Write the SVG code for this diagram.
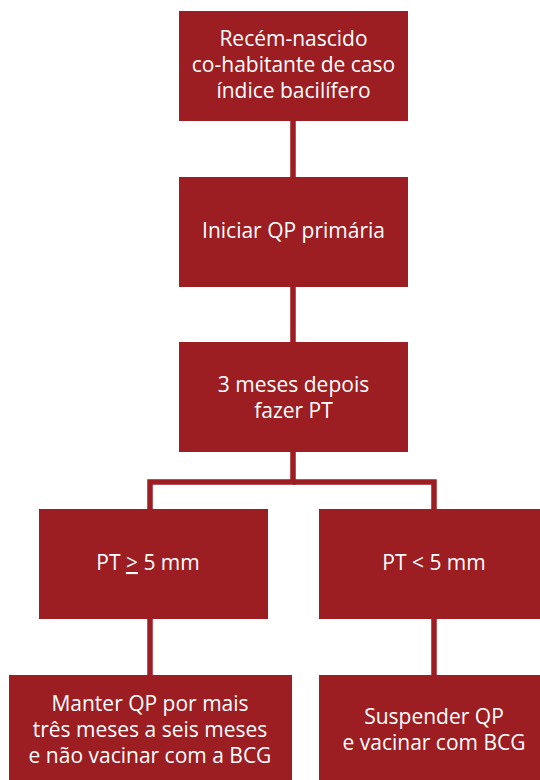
<svg xmlns="http://www.w3.org/2000/svg" width="540" height="780" viewBox="0 0 540 780">
<style>
.box{fill:#9c1d22}
.t{font-family:"Open Sans","Liberation Sans",sans-serif;font-size:21px;fill:#ffffff;text-anchor:middle}
.c{stroke:#9c1d22;stroke-width:5.5;fill:none}
</style>
<rect width="540" height="780" fill="#ffffff"/>
<g id="connectors">
<line class="c" x1="293" y1="120" x2="293" y2="178"/>
<line class="c" x1="293" y1="286" x2="293" y2="343"/>
<polyline class="c" points="293,451 293,482 150,482 150,510"/>
<polyline class="c" points="293,482 434,482 434,510"/>
<line class="c" x1="150" y1="618" x2="150" y2="676"/>
<line class="c" x1="434" y1="618" x2="434" y2="676"/>
</g>
<g id="n1"><rect class="box" x="179" y="11" width="229" height="110"/>
<text class="t" x="293.5" y="46">Recém-nascido</text>
<text class="t" x="293.5" y="72">co-habitante de caso</text>
<text class="t" x="293.5" y="98">índice bacilífero</text></g>
<g id="n2"><rect class="box" x="179" y="177" width="229" height="110"/>
<text class="t" x="293.5" y="238">Iniciar QP primária</text></g>
<g id="n3"><rect class="box" x="179" y="342" width="229" height="110"/>
<text class="t" x="293.5" y="391.5">3 meses depois</text>
<text class="t" x="293.5" y="417.5">fazer PT</text></g>
<g id="n4"><rect class="box" x="39" y="509" width="229" height="110"/>
<text class="t" x="148" y="570">PT <tspan text-decoration="underline">&gt;</tspan> 5 mm</text></g>
<g id="n5"><rect class="box" x="319" y="509" width="221" height="110"/>
<text class="t" x="434" y="570">PT &lt; 5 mm</text></g>
<g id="n6"><rect class="box" x="9" y="675" width="283" height="105"/>
<text class="t" x="150" y="711">Manter QP por mais</text>
<text class="t" x="150" y="737">três meses a seis meses</text>
<text class="t" x="150" y="763">e não vacinar com a BCG</text></g>
<g id="n7"><rect class="box" x="319" y="675" width="221" height="105"/>
<text class="t" x="434" y="724">Suspender QP</text>
<text class="t" x="434" y="750">e vacinar com BCG</text></g>
</svg>
